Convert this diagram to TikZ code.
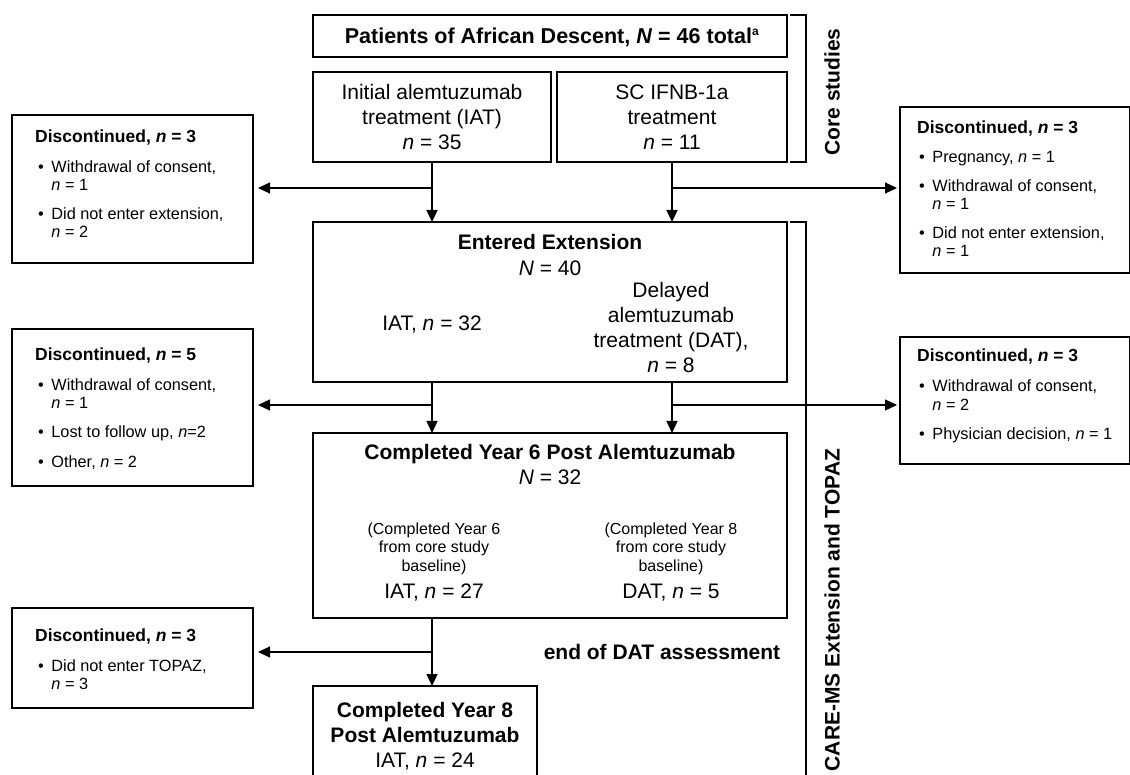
\documentclass[tikz,border=0pt]{standalone}
\usepackage{fontspec}
\setmainfont{Liberation Sans}
\usetikzlibrary{arrows.meta}
\begin{document}
\begin{tikzpicture}[x=1pt,y=-1pt,
  box/.style={draw, line width=1.4pt, inner sep=0pt, outer sep=0pt, anchor=north west},
  conn/.style={line width=1.3pt},
  arr/.style={conn, -{Triangle[length=12pt,width=11pt]}},
  big/.style={font=\fontsize{21}{25}\selectfont, align=center, inner sep=0pt},
  bigb/.style={font=\fontsize{21}{25}\selectfont\bfseries, align=center, inner sep=0pt},
  small/.style={font=\fontsize{16}{18.5}\selectfont, align=center, inner sep=0pt},
  dtitle/.style={font=\fontsize{17.5}{18}\selectfont\bfseries, anchor=base west, inner sep=0pt},
  ditem/.style={font=\fontsize{16.3}{18}\selectfont, anchor=base west, inner sep=0pt},
]
\useasboundingbox (0,0) rectangle (1130,775);
\clip (0,0) rectangle (1130,775);
\newcommand{\ditm}[2]{\begin{tabular}[t]{@{}l@{\hspace{7.5pt}}l@{}}\textbullet & #1\\ & #2\end{tabular}}
\newcommand{\ditmone}[1]{\begin{tabular}[t]{@{}l@{\hspace{7.5pt}}l@{}}\textbullet & #1\end{tabular}}

% core boxes
\node[box, minimum width=474pt, minimum height=42pt] (top) at (313,15) {};
\node[bigb, anchor=base, font=\fontsize{21.5}{25}\selectfont\bfseries] (toptext) at (552,43.5) {Patients of African Descent, \textit{N} = 46 total\textsuperscript{\fontsize{12}{12}\selectfont a}};
\node[box, minimum width=238pt, minimum height=90pt] (iat) at (313,72) {};
\node[big] (iattext) at (iat.center) {Initial alemtuzumab\\treatment (IAT)\\\textit{n} = 35};
\node[box, minimum width=230pt, minimum height=90pt] (sc) at (557,72) {};
\node[big] (sctext) at (sc.center) {SC IFNB-1a\\treatment\\\textit{n} = 11};

% bracket core
\draw[conn] ([xshift=3pt]top.north east) -- ++(16,0) |- ([xshift=3pt]sc.south east);
\node[bigb, rotate=90] (corelab) at (832,92) {Core studies};

% extension
\node[box, minimum width=474pt, minimum height=160pt] (ext) at (313,222) {};
\node[bigb, anchor=base] (exttitle) at (550,249.5) {Entered Extension};
\node[big, anchor=base] (extn) at (550,275.5) {\textit{N} = 40};
\node[big, anchor=base] (extiat) at (432,330.5) {IAT, \textit{n} = 32};
\node[big, anchor=base] (extdat) at (671,373) {Delayed\\alemtuzumab\\treatment (DAT),\\\textit{n} = 8};

\draw[conn] ([xshift=3pt]ext.north east) -- ++(16,0) -- ++(0,600);
\node[bigb, rotate=90] (carelab) at (832,610) {CARE-MS Extension and TOPAZ};

% year 6
\node[box, minimum width=474pt, minimum height=185pt] (y6) at (313,433) {};
\node[bigb, anchor=base] (y6title) at (550,459.5) {Completed Year 6 Post Alemtuzumab};
\node[big, anchor=base] (y6n) at (550,484.5) {\textit{N} = 32};
\node[small, anchor=base] (y6l) at (434,571) {(Completed Year 6\\from core study\\baseline)};
\node[small, anchor=base] (y6r) at (671,571) {(Completed Year 8\\from core study\\baseline)};
\node[big, anchor=base] (y6iat) at (434,598) {IAT, \textit{n} = 27};
\node[big, anchor=base] (y6dat) at (671,598) {DAT, \textit{n} = 5};

% year 8
\node[box, minimum width=224pt, minimum height=110pt] (y8) at (313,686) {};
\node[bigb, anchor=base] (y8t1) at (425,717.5) {Completed Year 8};
\node[bigb, anchor=base] (y8t2) at (425,742.5) {Post Alemtuzumab};
\node[big, anchor=base] (y8n) at (425,767.5) {IAT, \textit{n} = 24};

\node[bigb, anchor=base] (enddat) at (662,659.5) {end of DAT assessment};

% left discontinued boxes
\node[box, minimum width=241pt, minimum height=148pt] (d1) at (12,115) {};
\node[dtitle] (d1t) at (35,143) {Discontinued, \textit{n} = 3};
\node[ditem] (d1a) at (38,173) {\ditm{Withdrawal of consent,}{\textit{n} = 1}};
\node[ditem] (d1b) at (38,220) {\ditm{Did not enter extension,}{\textit{n} = 2}};

\node[box, minimum width=241pt, minimum height=157pt] (d2) at (12,329) {};
\node[dtitle] (d2t) at (35,361) {Discontinued, \textit{n} = 5};
\node[ditem] (d2a) at (38,391) {\ditm{Withdrawal of consent,}{\textit{n} = 1}};
\node[ditem] (d2b) at (38,438) {\ditmone{Lost to follow up, \textit{n}=2}};
\node[ditem] (d2c) at (38,467) {\ditmone{Other, \textit{n} = 2}};

\node[box, minimum width=241pt, minimum height=100pt] (d3) at (12,608) {};
\node[dtitle] (d3t) at (35,641) {Discontinued, \textit{n} = 3};
\node[ditem] (d3a) at (38,671) {\ditm{Did not enter TOPAZ,}{\textit{n} = 3}};

% right discontinued boxes
\node[box, minimum width=230pt, minimum height=166pt] (r1) at (900,107) {};
\node[dtitle] (r1t) at (917,134) {Discontinued, \textit{n} = 3};
\node[ditem] (r1a) at (919,163) {\ditmone{Pregnancy, \textit{n} = 1}};
\node[ditem] (r1b) at (919,192) {\ditm{Withdrawal of consent,}{\textit{n} = 1}};
\node[ditem] (r1c) at (919,239) {\ditm{Did not enter extension,}{\textit{n} = 1}};

\node[box, minimum width=230pt, minimum height=127pt] (r2) at (900,337) {};
\node[dtitle] (r2t) at (917,362) {Discontinued, \textit{n} = 3};
\node[ditem] (r2a) at (919,392) {\ditm{Withdrawal of consent,}{\textit{n} = 2}};
\node[ditem] (r2b) at (919,439) {\ditmone{Physician decision, \textit{n} = 1}};

% connectors
\coordinate (j1) at (iat.south |- 0,188);
\coordinate (j2) at (sc.south |- 0,188);
\draw[arr] (iat.south) -- (iat.south |- ext.north);
\draw[arr] (sc.south) -- (sc.south |- ext.north);
\draw[arr, shorten >=5pt] (j1) -- (d1.east |- j1);
\draw[arr, shorten >=3pt] (j2) -- (r1.west |- j2);

\coordinate (j3) at (iat.south |- 0,405);
\coordinate (j4) at (sc.south |- 0,405);
\draw[arr] (iat.south |- ext.south) -- (iat.south |- y6.north);
\draw[arr] (sc.south |- ext.south) -- (sc.south |- y6.north);
\draw[arr, shorten >=5pt] (j3) -- (d2.east |- j3);
\draw[arr, shorten >=3pt] (j4) -- (r2.west |- j4);

\coordinate (j5) at (iat.south |- 0,652);
\draw[arr] (iat.south |- y6.south) -- (iat.south |- y8.north);
\draw[arr, shorten >=5pt] (j5) -- (d3.east |- j5);
\end{tikzpicture}
\end{document}
